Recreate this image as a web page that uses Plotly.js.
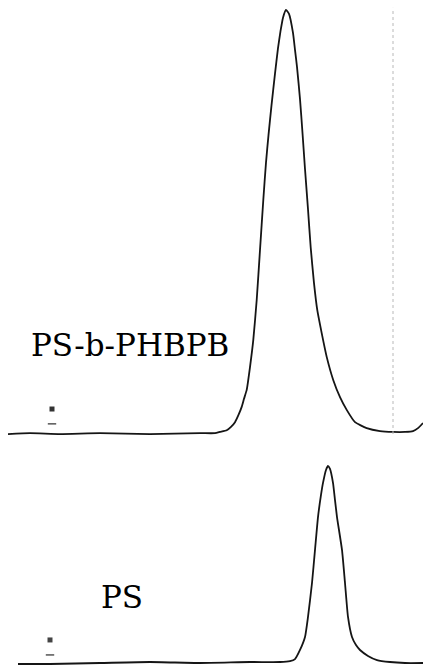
<!DOCTYPE html>
<html>
<head>
<meta charset="utf-8">
<script src="https://cdn.plot.ly/plotly-3.0.1.min.js"></script>
<style>html,body{margin:0;padding:0;background:#fff;}#chart{width:423px;height:671px;}</style>
</head>
<body>
<div id="chart"></div>
<script>
// Elution position (arbitrary units) and normalized detector response
const copolymerX = [0.8, 3.0, 6.0, 10.0, 15.0, 20.0, 21.5, 22.0, 22.67, 23.1, 23.5, 23.85, 24.17, 24.4, 24.67, 25.0, 25.33, 25.67, 26.0, 26.33, 26.6, 26.85, 27.15, 27.5, 27.8, 28.05, 28.3, 28.6, 28.9, 29.3, 29.5, 29.7, 30.0, 30.25, 30.5, 30.8, 31.07, 31.4, 31.73, 32.17, 32.67, 33.33, 34.0, 34.67, 35.5, 36.67, 38.0, 39.3, 40.5, 41.3, 41.8, 42.3];
const copolymerY = [0.0, 0.002, 0.0, 0.002, 0.0, 0.002, 0.002, 0.005, 0.009, 0.017, 0.028, 0.045, 0.064, 0.083, 0.104, 0.158, 0.222, 0.316, 0.434, 0.552, 0.640, 0.705, 0.775, 0.850, 0.910, 0.950, 0.982, 1.0, 0.991, 0.946, 0.906, 0.866, 0.790, 0.710, 0.625, 0.530, 0.440, 0.356, 0.292, 0.238, 0.182, 0.127, 0.087, 0.057, 0.028, 0.014, 0.007, 0.005, 0.005, 0.007, 0.014, 0.026];

const psX = [1.8, 5.0, 10.0, 15.0, 20.0, 25.0, 28.0, 29.0, 29.5, 30.0, 30.5, 30.8, 31.2, 31.5, 31.8, 32.1, 32.3, 32.6, 32.8, 33.0, 33.3, 33.5, 33.7, 34.2, 34.5, 34.8, 35.2, 35.6, 36.0, 36.8, 37.7, 39.0, 40.5, 42.3];
const psY = [-0.005, -0.005, 0.0, 0.005, 0.0, 0.005, 0.005, 0.010, 0.020, 0.066, 0.132, 0.234, 0.406, 0.574, 0.741, 0.853, 0.914, 0.980, 1.0, 0.985, 0.914, 0.827, 0.741, 0.574, 0.406, 0.234, 0.132, 0.091, 0.066, 0.036, 0.015, 0.005, 0.0, 0.0];

// small injection marks near the left edge
const markX = [5.2];
const copolymerMarkY = [0.059];
const copolymerTickY = [0.024];
const psMarkY = [0.117];
const psTickY = [0.041];

const labels = ["PS-b-PHBPB", "PS"];
const dottedLineX = 39.3;

const lineStyle = {color: '#151515', width: 1.8, shape: 'spline', smoothing: 0.5};
const labelFont = {family: 'DejaVu Serif', size: 31, color: '#000'};

const traces = [
  {x: copolymerX, y: copolymerY, mode: 'lines', line: lineStyle, xaxis: 'x', yaxis: 'y', hoverinfo: 'skip'},
  {x: psX, y: psY, mode: 'lines', line: lineStyle, xaxis: 'x', yaxis: 'y2', hoverinfo: 'skip'},
  {x: markX, y: copolymerMarkY, mode: 'markers', marker: {symbol: 'square', size: 5, color: '#333'}, xaxis: 'x', yaxis: 'y'},
  {x: markX, y: copolymerTickY, mode: 'markers', marker: {symbol: 'line-ew', size: 6, line: {color: '#555', width: 1.5}}, xaxis: 'x', yaxis: 'y'},
  {x: markX.map(v => v - 0.2), y: psMarkY, mode: 'markers', marker: {symbol: 'square', size: 5, color: '#444'}, xaxis: 'x', yaxis: 'y2'},
  {x: markX.map(v => v - 0.2), y: psTickY, mode: 'markers', marker: {symbol: 'line-ew', size: 6, line: {color: '#555', width: 1.5}}, xaxis: 'x', yaxis: 'y2'}
];

const hidden = {showgrid: false, zeroline: false, showline: false, showticklabels: false, ticks: ''};

const layout = {
  width: 423, height: 671,
  margin: {l: 0, r: 0, t: 0, b: 0},
  paper_bgcolor: '#fff', plot_bgcolor: 'rgba(0,0,0,0)',
  showlegend: false,
  xaxis: Object.assign({range: [0, 42.3]}, hidden),
  yaxis: Object.assign({domain: [0.3368, 1], range: [-0.0259, 1.0236]}, hidden),
  yaxis2: Object.assign({domain: [0, 0.3219], range: [-0.0406, 1.0558]}, hidden),
  shapes: [
    {type: 'line', xref: 'x', yref: 'y', x0: dottedLineX, x1: dottedLineX, y0: 0.0, y1: 1.005,
     line: {color: '#b8b8b8', width: 1, dash: 'dot'}}
  ],
  annotations: [
    {text: labels[0], xref: 'paper', yref: 'paper', x: 130 / 423, y: 0.4851, xanchor: 'center', yanchor: 'middle',
     showarrow: false, font: labelFont},
    {text: labels[1], xref: 'paper', yref: 'paper', x: 122.5 / 423, y: 0.111, xanchor: 'center', yanchor: 'middle',
     showarrow: false, font: labelFont}
  ]
};

Plotly.newPlot('chart', traces, layout, {staticPlot: true, displayModeBar: false});
</script>
</body>
</html>
